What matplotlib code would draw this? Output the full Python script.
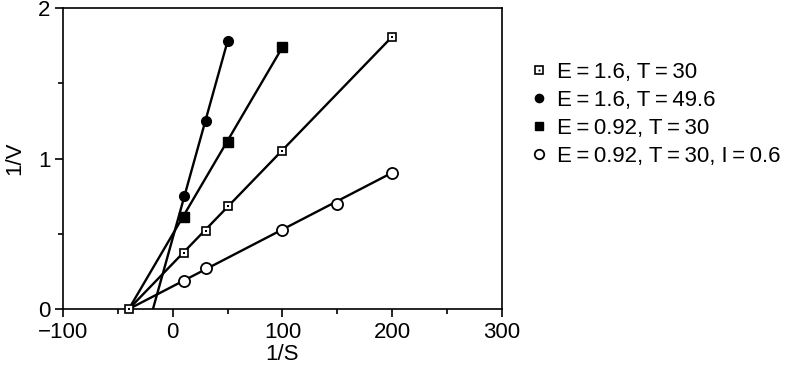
import numpy as np
from matplotlib import pyplot as plt

plt.rcParams['font.family'] = ['Liberation Sans', 'DejaVu Sans']

# 1/S and 1/V values per series
x1 = [-40, 10, 30, 50, 100, 200]
y1 = [0, 0.37, 0.52, 0.686, 1.05, 1.81]
x2 = [10, 30, 50]
y2 = [0.75, 1.25, 1.78]
x3 = [10, 50, 100]
y3 = [0.613, 1.11, 1.74]
x4 = [10, 30, 100, 150, 200]
y4 = [0.188, 0.27, 0.525, 0.70, 0.906]

# x-intercepts of the fitted lines
x0 = [-40, -18, -40, -40]

labels = ['E\u2009=\u20091.6, T\u2009=\u200930',
          'E\u2009=\u20091.6, T\u2009=\u200949.6',
          'E\u2009=\u20090.92, T\u2009=\u200930',
          'E\u2009=\u20090.92, T\u2009=\u200930, I\u2009=\u20090.6']

fig = plt.figure(figsize=(7.9, 3.82), dpi=100)
ax = fig.add_axes([0.0797, 0.191, 0.5557, 0.788])

series = [(x1, y1), (x2, y2), (x3, y3), (x4, y4)]
for (xs, ys), xi in zip(series, x0):
    ax.plot([xi, xs[-1]], [0, ys[-1]], color='black', lw=1.7, zorder=2)

h1a, = ax.plot(x1, y1, ls='none', marker='s', ms=6, mfc='white', mec='black', mew=1.2, zorder=3, clip_on=False)
h1b, = ax.plot(x1, y1, ls='none', marker='s', ms=1.6, mfc='black', mec='black', mew=0, zorder=4, clip_on=False)
h2, = ax.plot(x2, y2, ls='none', marker='o', ms=7, mfc='black', mec='black', zorder=3)
h3, = ax.plot(x3, y3, ls='none', marker='s', ms=6.5, mfc='black', mec='black', zorder=3)
h4, = ax.plot(x4, y4, ls='none', marker='o', ms=8, mfc='white', mec='black', mew=1.3, zorder=3)

ax.set_xlim(-100, 300)
ax.set_ylim(0, 2)
ax.set_xticks([-100, 0, 100, 200, 300])
ax.set_xticklabels(['\u2212100', '0', '100', '200', '300'])
ax.set_xticks([-50, 50, 150, 250], minor=True)
ax.set_yticks([0, 1, 2])
ax.set_yticks([0.5, 1.5], minor=True)
ax.tick_params(which='major', length=6, width=1.2, labelsize=16, pad=3)
ax.tick_params(which='minor', length=3.5, width=1.2)
for s in ax.spines.values():
    s.set_linewidth(1.2)
ax.set_xlabel('1/S', fontsize=16, labelpad=1)
ax.set_ylabel('1/V', fontsize=16, labelpad=9)

leg = fig.legend([(h1a, h1b), h2, h3, h4], labels, loc='center left',
                 bbox_to_anchor=(0.66, 0.70), frameon=False, fontsize=16,
                 markerscale=0.85, handlelength=0.8, handletextpad=0.4,
                 labelspacing=0.32, borderaxespad=0)

fig.savefig('out.png', dpi=100)
